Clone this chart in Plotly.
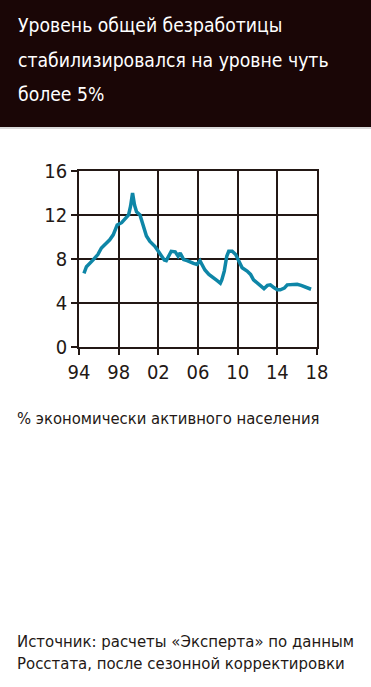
import plotly.graph_objects as go

# ---- data ----
years = [1994.5, 1994.75, 1995.4, 1995.9, 1996.26, 1996.8, 1997.1, 1997.45, 1997.85, 1998.3,
         1998.6, 1999.0, 1999.2, 1999.4, 1999.6, 1999.8, 2000.15, 2000.5, 2000.8, 2001.15,
         2001.65, 2002.0, 2002.3, 2002.6, 2002.8, 2003.0, 2003.3, 2003.7, 2004.0, 2004.2,
         2004.55, 2004.9, 2005.2, 2005.55, 2005.9, 2006.2, 2006.4, 2006.7, 2007.1, 2007.6,
         2007.9, 2008.25, 2008.4, 2008.65, 2008.9, 2009.1, 2009.45, 2009.8, 2010.1, 2010.45,
         2010.95, 2011.3, 2011.6, 2012.0, 2012.3, 2012.65, 2013.0, 2013.3, 2013.65, 2014.0,
         2014.3, 2014.7, 2015.0, 2015.5, 2016.0, 2016.4, 2016.9, 2017.4]
unemployment = [6.7, 7.3, 7.9, 8.4, 9.0, 9.45, 9.75, 10.2, 11.1, 11.3,
                11.6, 12.0, 12.8, 14.0, 12.9, 12.3, 12.0, 11.0, 10.1, 9.6,
                9.15, 8.7, 8.25, 7.9, 7.85, 8.25, 8.7, 8.65, 8.25, 8.55,
                7.95, 7.85, 7.7, 7.6, 7.5, 7.85, 7.5, 7.0, 6.6, 6.3,
                6.05, 5.8, 6.1, 6.9, 8.25, 8.7, 8.7, 8.4, 7.8, 7.2,
                6.9, 6.6, 6.1, 5.8, 5.5, 5.3, 5.6, 5.65, 5.4, 5.2,
                5.2, 5.35, 5.65, 5.7, 5.7, 5.6, 5.45, 5.25]
x_ticks = [1994, 1998, 2002, 2006, 2010, 2014, 2018]
x_tick_labels = ["94", "98", "02", "06", "10", "14", "18"]
y_ticks = [0, 4, 8, 12, 16]

title_lines = ["Уровень общей безработицы",
               "стабилизировался на уровне чуть",
               "более 5%"]
subtitle = "% экономически активного населения"
source_lines = ["Источник: расчеты «Эксперта» по данным",
                "Росстата, после сезонной корректировки"]

# ---- layout geometry ----
W, H = 371, 687
L, R, T, B = 79, 317, 171, 347
FONT = "DejaVu Sans Condensed, Roboto, sans-serif"
GRID = "#231815"
TEXT = "#231815"


def px(x):
    return (x - L) / (R - L)


def py(y):
    return (B - y) / (B - T)


fig = go.Figure()
fig.add_trace(go.Scatter(x=years, y=unemployment, mode="lines",
                         line=dict(color="#0e86a7", width=3.5), hoverinfo="skip"))

axis_common = dict(showgrid=True, gridcolor=GRID, gridwidth=1.5,
                   ticks="outside", ticklen=6, tickwidth=1.5, tickcolor=GRID,
                   showline=True, linecolor=GRID, linewidth=1.5, mirror=True,
                   zeroline=False, tickfont=dict(family=FONT, size=20, color=TEXT))

fig.update_xaxes(range=[1994, 2018], tickvals=x_ticks, ticktext=x_tick_labels, **axis_common)
fig.update_yaxes(range=[0, 16], tickvals=y_ticks, **axis_common)

shapes = [dict(type="rect", xref="paper", yref="paper",
               x0=px(0), x1=px(W), y0=py(127), y1=py(0),
               fillcolor="#1a0606", line=dict(width=0), layer="below"),
          dict(type="rect", xref="paper", yref="paper",
               x0=px(0), x1=px(W), y0=py(129), y1=py(127),
               fillcolor="#d9d9d9", line=dict(width=0), layer="below")]

annotations = []
for i, t in enumerate(title_lines):
    annotations.append(dict(text=t, xref="paper", yref="paper", x=px(16), y=py(26 + 34 * i),
                            xanchor="left", yanchor="middle", showarrow=False,
                            font=dict(family=FONT, size=19.2, color="white")))
annotations.append(dict(text=subtitle, xref="paper", yref="paper", x=px(15), y=py(418),
                        xanchor="left", yanchor="middle", showarrow=False,
                        font=dict(family=FONT, size=16.5, color=TEXT)))
for i, t in enumerate(source_lines):
    annotations.append(dict(text=t, xref="paper", yref="paper", x=px(15), y=py(641 + 22 * i),
                            xanchor="left", yanchor="middle", showarrow=False,
                            font=dict(family=FONT, size=16.6, color=TEXT)))

fig.update_layout(width=W, height=H, margin=dict(l=L, r=W - R, t=T, b=H - B),
                  paper_bgcolor="white", plot_bgcolor="white", showlegend=False,
                  shapes=shapes, annotations=annotations)

fig.write_html("out.html", config={"displayModeBar": False},
               post_script="document.body.style.margin='0';")
